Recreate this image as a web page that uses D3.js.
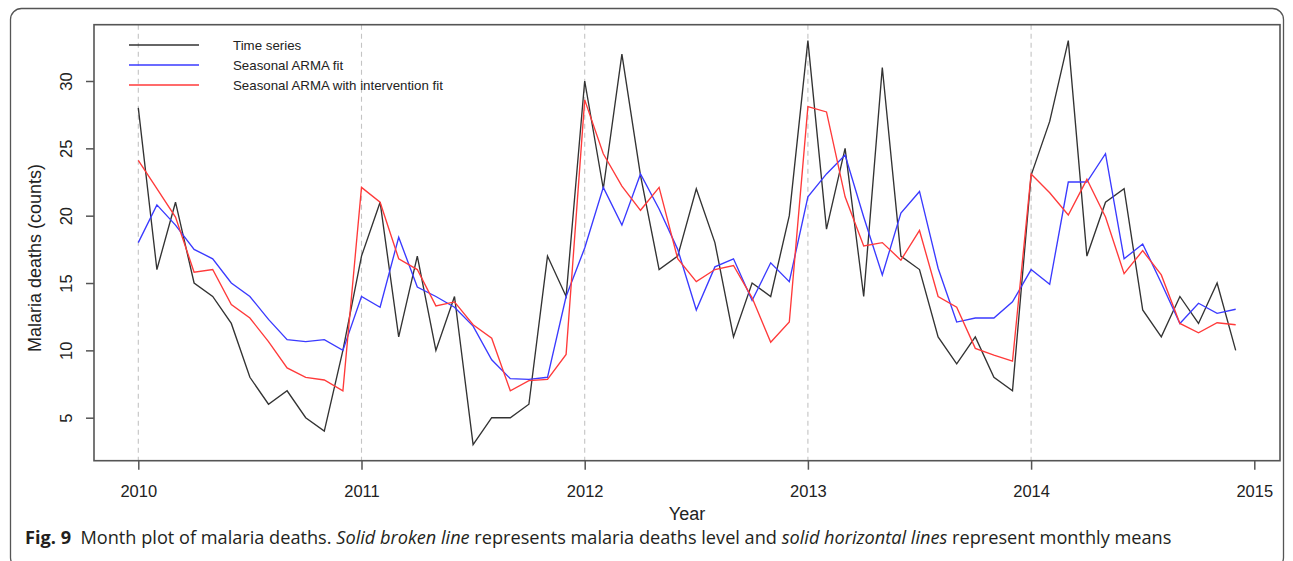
<!DOCTYPE html>
<html>
<head>
<meta charset="utf-8">
<script src="https://cdn.jsdelivr.net/npm/d3@7"></script>
<style>
  html, body { margin: 0; padding: 0; background: #fff; }
  svg { display: block; }
</style>
</head>
<body>
<svg id="chart" width="1293" height="561"></svg>
<script>
// Monthly malaria deaths, Jan 2010 – Dec 2014
const startYear = 2010;
const observed = [
  28, 16, 21, 15, 14, 12, 8, 6, 7, 5, 4, 10,
  17, 21, 11, 17, 10, 14, 3, 5, 5, 6, 17, 14,
  30, 22, 32, 23, 16, 17, 22, 18, 11, 15, 14, 20,
  33, 19, 25, 14, 31, 17, 16, 11, 9, 11, 8, 7,
  23, 27, 33, 17, 21, 22, 13, 11, 14, 12, 15, 10
];
const armaFit = [
  18.0, 20.8, 19.3, 17.5, 16.8, 15.0, 14.0, 12.3, 10.8, 10.65, 10.8, 10.0,
  14.0, 13.2, 18.4, 14.7, 14.0, 13.2, 11.8, 9.3, 7.9, 7.85, 8.0, 14.0,
  17.6, 22.1, 19.3, 23.1, 20.5, 17.5, 13.0, 16.2, 16.8, 13.7, 16.5, 15.1,
  21.4, 23.1, 24.5, 19.9, 15.6, 20.2, 21.8, 16.1, 12.1, 12.4, 12.4, 13.6,
  16.0, 14.9, 22.5, 22.5, 24.6, 16.8, 17.9, 15.0, 12.0, 13.5, 12.75, 13.05
];
const interventionFit = [
  24.1, 22.0, 19.9, 15.8, 16.0, 13.4, 12.4, 10.65, 8.7, 8.0, 7.8, 7.0,
  22.1, 21.0, 16.8, 16.0, 13.3, 13.6, 11.9, 10.9, 7.0, 7.75, 7.85, 9.7,
  28.6, 24.6, 22.2, 20.4, 22.1, 16.8, 15.1, 16.0, 16.3, 13.9, 10.6, 12.1,
  28.1, 27.7, 21.4, 17.75, 18.0, 16.7, 18.9, 14.0, 13.2, 10.15, 9.65, 9.2,
  23.1, 21.7, 20.05, 22.7, 19.9, 15.7, 17.4, 15.6, 12.0, 11.3, 12.05, 11.9
];
const seriesNames = ["Time series", "Seasonal ARMA fit", "Seasonal ARMA with intervention fit"];
const seriesColors = ["#333333", "#3a3aff", "#ff3a3a"];
const xTicks = [2010, 2011, 2012, 2013, 2014, 2015];
const yTicks = [5, 10, 15, 20, 25, 30];
const yearLines = [2010, 2011, 2012, 2013, 2014];

const svg = d3.select("#chart");
const AXIS_FONT = "'Liberation Sans', Arial, sans-serif";

// outer figure frame
svg.append("rect")
  .attr("x", 10.5).attr("y", 8.5)
  .attr("width", 1273).attr("height", 560)
  .attr("rx", 11).attr("ry", 11)
  .attr("fill", "none").attr("stroke", "#555").attr("stroke-width", 1.3);

// plot region
const box = { left: 94, top: 24.7, right: 1280, bottom: 460.7 };
const x = d3.scaleLinear().domain([2010, 2015]).range([138.3, 1254.3]);
const y = d3.scaleLinear().domain([5, 30]).range([417.7, 81]);

// dashed year guides
svg.append("g").selectAll("line").data(yearLines).join("line")
  .attr("x1", d => x(d)).attr("x2", d => x(d))
  .attr("y1", box.top).attr("y2", box.bottom)
  .attr("stroke", "#c4c4c4").attr("stroke-width", 1.1)
  .attr("stroke-dasharray", "5,4");

// series lines
const monthX = i => x(startYear + i / 12);
const line = d3.line().x((d, i) => monthX(i)).y(d => y(d));
[observed, armaFit, interventionFit].forEach((s, k) => {
  svg.append("path").datum(s)
    .attr("d", line)
    .attr("fill", "none")
    .attr("stroke", seriesColors[k])
    .attr("stroke-width", 1.35)
    .attr("stroke-linejoin", "miter");
});

// box around plot
svg.append("rect")
  .attr("x", box.left).attr("y", box.top)
  .attr("width", box.right - box.left).attr("height", box.bottom - box.top)
  .attr("fill", "none").attr("stroke", "#555").attr("stroke-width", 1.6);

// x axis
const xAxis = d3.axisBottom(x).tickValues(xTicks).tickFormat(d3.format("d"))
  .tickSize(9).tickPadding(14);
const gx = svg.append("g").attr("transform", `translate(0,${box.bottom})`).call(xAxis);
gx.select(".domain").remove();
gx.selectAll(".tick line").attr("stroke", "#555").attr("stroke-width", 1.5);
gx.selectAll(".tick text").attr("font-family", AXIS_FONT).attr("font-size", 16.5)
  .attr("fill", "#222").attr("dy", 0).attr("y", 36);

// y axis with rotated labels
const yAxis = d3.axisLeft(y).tickValues(yTicks).tickSize(8).tickFormat(d3.format("d"));
const gy = svg.append("g").attr("transform", `translate(${box.left},0)`).call(yAxis);
gy.select(".domain").remove();
gy.selectAll(".tick line").attr("stroke", "#555").attr("stroke-width", 1.5);
gy.selectAll(".tick text")
  .attr("font-family", AXIS_FONT).attr("font-size", 16.5).attr("fill", "#222")
  .attr("x", null).attr("dy", null)
  .attr("text-anchor", "middle")
  .attr("transform", "translate(-22.5,0) rotate(-90)");

// axis titles
svg.append("text")
  .attr("x", 687).attr("y", 520)
  .attr("text-anchor", "middle")
  .attr("font-family", AXIS_FONT).attr("font-size", 18).attr("fill", "#222")
  .text("Year");
svg.append("text")
  .attr("transform", "translate(41,258) rotate(-90)")
  .attr("text-anchor", "middle")
  .attr("font-family", AXIS_FONT).attr("font-size", 18).attr("fill", "#222")
  .text("Malaria deaths (counts)");

// legend
const legend = svg.append("g");
seriesNames.forEach((name, k) => {
  const ly = 45 + k * 20;
  legend.append("line")
    .attr("x1", 129).attr("x2", 199).attr("y1", ly).attr("y2", ly)
    .attr("stroke", seriesColors[k]).attr("stroke-width", 1.4);
  legend.append("text")
    .attr("x", 233).attr("y", ly).attr("dy", "0.35em")
    .attr("font-family", AXIS_FONT).attr("font-size", 13.3).attr("fill", "#222")
    .text(name);
});

// figure caption
const captionParts = [
  { t: "Fig. 9", w: "bold", s: "normal" },
  { t: "\u00a0 Month plot of malaria deaths. ", w: "normal", s: "normal" },
  { t: "Solid broken line", w: "normal", s: "italic" },
  { t: " represents malaria deaths level and ", w: "normal", s: "normal" },
  { t: "solid horizontal lines", w: "normal", s: "italic" },
  { t: " represent monthly means", w: "normal", s: "normal" }
];
const caption = svg.append("text")
  .attr("x", 25).attr("y", 544)
  .attr("font-family", "'Open Sans', 'Noto Sans', sans-serif")
  .attr("font-size", 16).attr("fill", "#231f20");
captionParts.forEach(p => {
  caption.append("tspan").attr("font-weight", p.w).attr("font-style", p.s).text(p.t);
});
const capLen = caption.node().getComputedTextLength();
caption.attr("font-size", 16 * 1147 / capLen);
</script>
</body>
</html>
